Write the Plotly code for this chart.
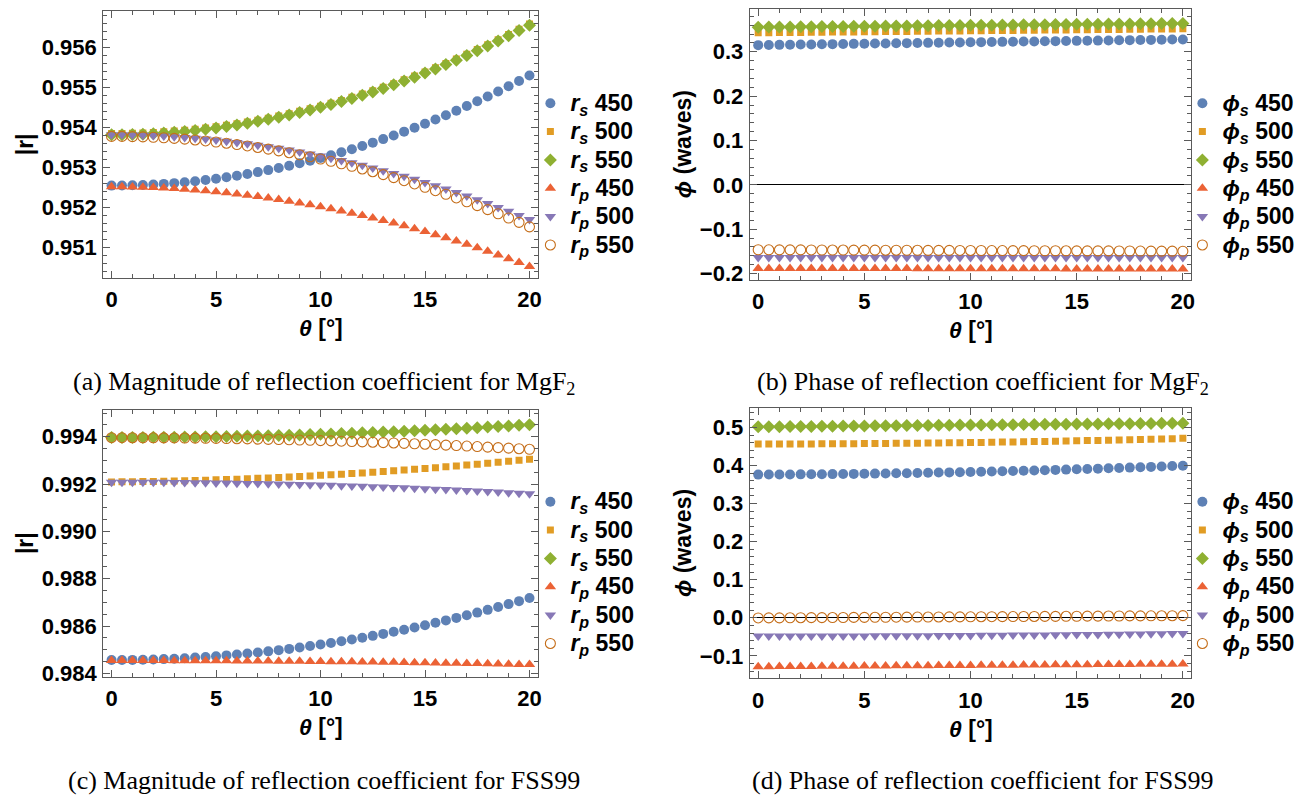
import plotly.graph_objects as go

# ---------------- data ----------------
theta = [0, 0.5, 1, 1.5, 2, 2.5, 3, 3.5, 4, 4.5, 5, 5.5, 6, 6.5, 7, 7.5, 8, 8.5, 9, 9.5,
         10, 10.5, 11, 11.5, 12, 12.5, 13, 13.5, 14, 14.5, 15, 15.5, 16, 16.5, 17, 17.5,
         18, 18.5, 19, 19.5, 20]

series_names_r = ["<i>r<sub>s</sub></i> 450", "<i>r<sub>s</sub></i> 500",
                  "<i>r<sub>s</sub></i> 550", "<i>r<sub>p</sub></i> 450",
                  "<i>r<sub>p</sub></i> 500", "<i>r<sub>p</sub></i> 550"]
series_names_phi = ["<i>ϕ<sub>s</sub></i> 450", "<i>ϕ<sub>s</sub></i> 500",
                    "<i>ϕ<sub>s</sub></i> 550", "<i>ϕ<sub>p</sub></i> 450",
                    "<i>ϕ<sub>p</sub></i> 500", "<i>ϕ<sub>p</sub></i> 550"]

# (a) MgF2 magnitude
a_rs450 = [0.952540, 0.952542, 0.952547, 0.952555, 0.952568, 0.952583, 0.952602, 0.952624, 0.952650, 0.952679,
           0.952712, 0.952748, 0.952788, 0.952830, 0.952877, 0.952927, 0.952980, 0.953037, 0.953097, 0.953160,
           0.953228, 0.953298, 0.953372, 0.953449, 0.953530, 0.953614, 0.953702, 0.953793, 0.953888, 0.953985,
           0.954087, 0.954192, 0.954300, 0.954412, 0.954527, 0.954646, 0.954768, 0.954893, 0.955022, 0.955154,
           0.955290]
a_rs500 = [0.953840, 0.953842, 0.953847, 0.953855, 0.953867, 0.953883, 0.953902, 0.953924, 0.953950, 0.953979,
           0.954011, 0.954047, 0.954087, 0.954129, 0.954176, 0.954225, 0.954278, 0.954335, 0.954395, 0.954458,
           0.954525, 0.954595, 0.954669, 0.954746, 0.954826, 0.954910, 0.954998, 0.955088, 0.955183, 0.955280,
           0.955381, 0.955486, 0.955594, 0.955705, 0.955820, 0.955938, 0.956059, 0.956184, 0.956313, 0.956445,
           0.956580]
a_rs550 = [0.953810, 0.953812, 0.953817, 0.953825, 0.953837, 0.953853, 0.953872, 0.953894, 0.953920, 0.953949,
           0.953981, 0.954017, 0.954057, 0.954099, 0.954146, 0.954195, 0.954248, 0.954305, 0.954365, 0.954428,
           0.954495, 0.954565, 0.954639, 0.954716, 0.954796, 0.954880, 0.954968, 0.955058, 0.955153, 0.955250,
           0.955351, 0.955456, 0.955564, 0.955675, 0.955790, 0.955908, 0.956029, 0.956154, 0.956283, 0.956415,
           0.956550]
a_rp450 = [0.952510, 0.952509, 0.952505, 0.952499, 0.952490, 0.952479, 0.952465, 0.952449, 0.952430, 0.952409,
           0.952386, 0.952360, 0.952331, 0.952300, 0.952266, 0.952230, 0.952192, 0.952151, 0.952107, 0.952061,
           0.952013, 0.951962, 0.951908, 0.951852, 0.951794, 0.951733, 0.951669, 0.951603, 0.951535, 0.951464,
           0.951391, 0.951315, 0.951236, 0.951156, 0.951072, 0.950986, 0.950898, 0.950807, 0.950714, 0.950618,
           0.950520]
a_rp500 = [0.953810, 0.953809, 0.953805, 0.953798, 0.953789, 0.953777, 0.953762, 0.953745, 0.953725, 0.953703,
           0.953678, 0.953650, 0.953619, 0.953586, 0.953550, 0.953512, 0.953471, 0.953427, 0.953381, 0.953332,
           0.953280, 0.953226, 0.953169, 0.953109, 0.953047, 0.952982, 0.952914, 0.952844, 0.952771, 0.952696,
           0.952618, 0.952537, 0.952453, 0.952367, 0.952278, 0.952187, 0.952093, 0.951996, 0.951897, 0.951795,
           0.951690]
a_rp550 = [0.953770, 0.953769, 0.953764, 0.953757, 0.953747, 0.953735, 0.953719, 0.953701, 0.953680, 0.953656,
           0.953629, 0.953599, 0.953567, 0.953531, 0.953493, 0.953452, 0.953408, 0.953362, 0.953312, 0.953260,
           0.953205, 0.953147, 0.953086, 0.953023, 0.952956, 0.952887, 0.952815, 0.952740, 0.952663, 0.952582,
           0.952499, 0.952413, 0.952324, 0.952232, 0.952137, 0.952040, 0.951939, 0.951836, 0.951730, 0.951622,
           0.951510]

# (b) MgF2 phase (waves)
b_ps450 = [0.3150, 0.3153, 0.3156, 0.3160, 0.3163, 0.3166, 0.3169, 0.3172, 0.3176, 0.3179,
           0.3182, 0.3185, 0.3188, 0.3192, 0.3195, 0.3198, 0.3201, 0.3204, 0.3208, 0.3211,
           0.3214, 0.3217, 0.3220, 0.3224, 0.3227, 0.3230, 0.3233, 0.3236, 0.3240, 0.3243,
           0.3246, 0.3249, 0.3252, 0.3256, 0.3259, 0.3262, 0.3265, 0.3268, 0.3272, 0.3275,
           0.3278]
b_ps500 = [0.3428, 0.3430, 0.3433, 0.3435, 0.3437, 0.3439, 0.3442, 0.3444, 0.3446, 0.3448,
           0.3451, 0.3453, 0.3455, 0.3457, 0.3460, 0.3462, 0.3464, 0.3466, 0.3469, 0.3471,
           0.3473, 0.3475, 0.3478, 0.3480, 0.3482, 0.3484, 0.3487, 0.3489, 0.3491, 0.3493,
           0.3496, 0.3498, 0.3500, 0.3502, 0.3505, 0.3507, 0.3509, 0.3511, 0.3514, 0.3516,
           0.3518]
b_ps550 = [0.3555, 0.3557, 0.3559, 0.3561, 0.3563, 0.3566, 0.3568, 0.3570, 0.3572, 0.3574,
           0.3576, 0.3578, 0.3580, 0.3582, 0.3584, 0.3587, 0.3589, 0.3591, 0.3593, 0.3595,
           0.3597, 0.3599, 0.3601, 0.3603, 0.3605, 0.3608, 0.3610, 0.3612, 0.3614, 0.3616,
           0.3618, 0.3620, 0.3622, 0.3624, 0.3626, 0.3629, 0.3631, 0.3633, 0.3635, 0.3637,
           0.3639]
b_pp450 = [-0.1883, -0.1883, -0.1884, -0.1884, -0.1885, -0.1885, -0.1885, -0.1886, -0.1886, -0.1886,
           -0.1887, -0.1887, -0.1887, -0.1888, -0.1888, -0.1889, -0.1889, -0.1889, -0.1890, -0.1890,
           -0.1890, -0.1891, -0.1891, -0.1892, -0.1892, -0.1892, -0.1893, -0.1893, -0.1893, -0.1894,
           -0.1894, -0.1894, -0.1895, -0.1895, -0.1896, -0.1896, -0.1896, -0.1897, -0.1897, -0.1897,
           -0.1898]
b_pp500 = [-0.1635, -0.1635, -0.1635, -0.1635, -0.1636, -0.1636, -0.1636, -0.1636, -0.1636, -0.1636,
           -0.1636, -0.1637, -0.1637, -0.1637, -0.1637, -0.1637, -0.1637, -0.1637, -0.1638, -0.1638,
           -0.1638, -0.1638, -0.1638, -0.1638, -0.1638, -0.1639, -0.1639, -0.1639, -0.1639, -0.1639,
           -0.1639, -0.1639, -0.1640, -0.1640, -0.1640, -0.1640, -0.1640, -0.1640, -0.1640, -0.1640,
           -0.1640]
b_pp550 = [-0.1463, -0.1464, -0.1465, -0.1465, -0.1466, -0.1467, -0.1468, -0.1469, -0.1469, -0.1470,
           -0.1471, -0.1472, -0.1473, -0.1473, -0.1474, -0.1475, -0.1476, -0.1477, -0.1477, -0.1478,
           -0.1479, -0.1480, -0.1481, -0.1481, -0.1482, -0.1483, -0.1484, -0.1485, -0.1485, -0.1486,
           -0.1487, -0.1488, -0.1489, -0.1489, -0.1490, -0.1491, -0.1492, -0.1493, -0.1493, -0.1494,
           -0.1495]

# (c) FSS99 magnitude
c_rs450 = [0.984560, 0.984562, 0.984567, 0.984575, 0.984586, 0.984601, 0.984619, 0.984640, 0.984665, 0.984693,
           0.984724, 0.984758, 0.984796, 0.984837, 0.984881, 0.984928, 0.984979, 0.985033, 0.985091, 0.985151,
           0.985215, 0.985282, 0.985353, 0.985426, 0.985503, 0.985583, 0.985667, 0.985754, 0.985844, 0.985937,
           0.986034, 0.986134, 0.986237, 0.986343, 0.986453, 0.986566, 0.986682, 0.986802, 0.986925, 0.987051,
           0.987180]
c_rs500 = [0.992090, 0.992094, 0.992100, 0.992106, 0.992113, 0.992122, 0.992131, 0.992141, 0.992153, 0.992165,
           0.992179, 0.992193, 0.992208, 0.992225, 0.992242, 0.992261, 0.992280, 0.992301, 0.992322, 0.992345,
           0.992368, 0.992393, 0.992418, 0.992445, 0.992472, 0.992501, 0.992530, 0.992561, 0.992592, 0.992625,
           0.992659, 0.992693, 0.992729, 0.992765, 0.992803, 0.992842, 0.992881, 0.992922, 0.992964, 0.993006,
           0.993050]
c_rs550 = [0.993970, 0.993970, 0.993971, 0.993973, 0.993975, 0.993978, 0.993982, 0.993987, 0.993992, 0.993997,
           0.994004, 0.994011, 0.994019, 0.994027, 0.994036, 0.994046, 0.994056, 0.994068, 0.994079, 0.994092,
           0.994105, 0.994119, 0.994133, 0.994149, 0.994164, 0.994181, 0.994198, 0.994216, 0.994235, 0.994254,
           0.994274, 0.994294, 0.994316, 0.994338, 0.994360, 0.994383, 0.994407, 0.994432, 0.994457, 0.994483,
           0.994510]
c_rp450 = [0.984540, 0.984540, 0.984540, 0.984539, 0.984538, 0.984537, 0.984536, 0.984535, 0.984533, 0.984531,
           0.984529, 0.984527, 0.984525, 0.984522, 0.984519, 0.984516, 0.984513, 0.984509, 0.984506, 0.984502,
           0.984498, 0.984493, 0.984489, 0.984484, 0.984479, 0.984474, 0.984468, 0.984463, 0.984457, 0.984451,
           0.984444, 0.984438, 0.984431, 0.984424, 0.984417, 0.984410, 0.984402, 0.984395, 0.984387, 0.984378,
           0.984370]
c_rp500 = [0.992080, 0.992080, 0.992079, 0.992077, 0.992075, 0.992072, 0.992069, 0.992065, 0.992060, 0.992055,
           0.992049, 0.992043, 0.992036, 0.992028, 0.992020, 0.992011, 0.992002, 0.991992, 0.991981, 0.991969,
           0.991958, 0.991945, 0.991932, 0.991918, 0.991904, 0.991889, 0.991873, 0.991857, 0.991840, 0.991822,
           0.991804, 0.991786, 0.991766, 0.991747, 0.991726, 0.991705, 0.991683, 0.991661, 0.991638, 0.991614,
           0.991590]
c_rp550 = [0.993960, 0.993960, 0.993959, 0.993957, 0.993955, 0.993952, 0.993949, 0.993945, 0.993940, 0.993935,
           0.993929, 0.993923, 0.993916, 0.993908, 0.993900, 0.993891, 0.993882, 0.993872, 0.993861, 0.993849,
           0.993838, 0.993825, 0.993812, 0.993798, 0.993784, 0.993769, 0.993753, 0.993737, 0.993720, 0.993702,
           0.993684, 0.993666, 0.993646, 0.993627, 0.993606, 0.993585, 0.993563, 0.993541, 0.993518, 0.993494,
           0.993470]

# (d) FSS99 phase (waves)
d_ps450 = [0.3762, 0.3763, 0.3765, 0.3766, 0.3768, 0.3770, 0.3773, 0.3775, 0.3778, 0.3781,
           0.3785, 0.3788, 0.3792, 0.3796, 0.3800, 0.3805, 0.3810, 0.3815, 0.3820, 0.3825,
           0.3831, 0.3837, 0.3843, 0.3850, 0.3856, 0.3863, 0.3870, 0.3878, 0.3886, 0.3893,
           0.3902, 0.3910, 0.3919, 0.3927, 0.3936, 0.3946, 0.3955, 0.3965, 0.3975, 0.3986,
           0.3996]
d_ps500 = [0.4567, 0.4567, 0.4567, 0.4568, 0.4568, 0.4569, 0.4570, 0.4571, 0.4573, 0.4574,
           0.4576, 0.4578, 0.4580, 0.4583, 0.4585, 0.4588, 0.4590, 0.4594, 0.4597, 0.4600,
           0.4604, 0.4608, 0.4612, 0.4616, 0.4620, 0.4624, 0.4629, 0.4634, 0.4639, 0.4644,
           0.4650, 0.4655, 0.4661, 0.4667, 0.4673, 0.4680, 0.4686, 0.4693, 0.4700, 0.4707,
           0.4714]
d_ps550 = [0.5017, 0.5019, 0.5022, 0.5024, 0.5027, 0.5029, 0.5031, 0.5034, 0.5036, 0.5039,
           0.5041, 0.5043, 0.5046, 0.5048, 0.5051, 0.5053, 0.5055, 0.5058, 0.5060, 0.5063,
           0.5065, 0.5067, 0.5070, 0.5072, 0.5075, 0.5077, 0.5079, 0.5082, 0.5084, 0.5087,
           0.5089, 0.5091, 0.5094, 0.5096, 0.5099, 0.5101, 0.5103, 0.5106, 0.5108, 0.5111,
           0.5113]
d_pp450 = [-0.1286, -0.1284, -0.1283, -0.1281, -0.1279, -0.1277, -0.1276, -0.1274, -0.1272, -0.1270,
           -0.1269, -0.1267, -0.1265, -0.1263, -0.1262, -0.1260, -0.1258, -0.1256, -0.1255, -0.1253,
           -0.1251, -0.1249, -0.1248, -0.1246, -0.1244, -0.1242, -0.1241, -0.1239, -0.1237, -0.1235,
           -0.1234, -0.1232, -0.1230, -0.1228, -0.1227, -0.1225, -0.1223, -0.1221, -0.1220, -0.1218,
           -0.1216]
d_pp500 = [-0.0480, -0.0480, -0.0480, -0.0480, -0.0479, -0.0479, -0.0478, -0.0478, -0.0477, -0.0477,
           -0.0476, -0.0475, -0.0474, -0.0473, -0.0472, -0.0470, -0.0469, -0.0468, -0.0466, -0.0464,
           -0.0463, -0.0461, -0.0459, -0.0457, -0.0455, -0.0453, -0.0451, -0.0449, -0.0446, -0.0444,
           -0.0441, -0.0439, -0.0436, -0.0433, -0.0430, -0.0427, -0.0424, -0.0421, -0.0418, -0.0414,
           -0.0411]
d_pp550 = [-0.0004, -0.0003, -0.0001, 0.0000, 0.0002, 0.0004, 0.0005, 0.0007, 0.0008, 0.0010,
           0.0011, 0.0013, 0.0014, 0.0016, 0.0017, 0.0019, 0.0020, 0.0022, 0.0023, 0.0025,
           0.0026, 0.0028, 0.0029, 0.0031, 0.0032, 0.0034, 0.0035, 0.0037, 0.0038, 0.0040,
           0.0041, 0.0043, 0.0044, 0.0046, 0.0047, 0.0049, 0.0050, 0.0052, 0.0053, 0.0055,
           0.0056]

captions = ["(a) Magnitude of reflection coefficient for MgF<sub>2</sub>",
            "(b) Phase of reflection coefficient for MgF<sub>2</sub>",
            "(c) Magnitude of reflection coefficient for FSS99",
            "(d) Phase of reflection coefficient for FSS99"]

# ---------------- style ----------------
W, H = 1310, 803
def PX(x):
    return x / W
def PY(y):
    return 1 - y / H

colors = ["#5E81B5", "#E19C24", "#8FB032", "#EB6235", "#8778B6", "#C56E1A"]
symbols = ["circle", "square", "diamond", "triangle-up", "triangle-down", "circle-open"]
msizes = [10, 7, 10, 10, 10, 10]
FONT = "Liberation Sans, Arial, sans-serif"
FRAME = "#5a5a5a"
LEG_SPACING_FONT = 19.5   # sets row spacing of the legend
LEG_TEXT_PX = 23          # actual rendered legend text size

panels = [
    dict(data=[a_rs450, a_rs500, a_rs550, a_rp450, a_rp500, a_rp550], names=series_names_r,
         xdom=(103.5, 539.5), ydom=(11, 281), yrange=[0.950235, 0.956906], dtick=0.001, mdtick=0.0002,
         fmt=".3f", zero=False, leg=(532, 85), ytitle="<b>|r|</b>", ytx=25),
    dict(data=[b_ps450, b_ps500, b_ps550, b_pp450, b_pp500, b_pp550], names=series_names_phi,
         xdom=(752, 1195), ydom=(9.3, 282.7), yrange=[-0.2134, 0.396], dtick=0.1, mdtick=0.02,
         fmt=".1f", zero=True, leg=(1186, 85), ytitle="<b><i>ϕ</i> (waves)</b>", ytx=685),
    dict(data=[c_rs450, c_rs500, c_rs550, c_rp450, c_rp500, c_rp550], names=series_names_r,
         xdom=(103.5, 539.5), ydom=(414.3, 684.3), yrange=[0.98386, 0.995145], dtick=0.002, mdtick=0.0005,
         fmt=".3f", zero=False, leg=(532, 488), ytitle="<b>|r|</b>", ytx=25),
    dict(data=[d_ps450, d_ps500, d_ps550, d_pp450, d_pp500, d_pp550], names=series_names_phi,
         xdom=(752, 1195), ydom=(412.7, 686), yrange=[-0.159, 0.551], dtick=0.1, mdtick=0.02,
         fmt=".1f", zero=True, leg=(1186, 488), ytitle="<b><i>ϕ</i> (waves)</b>", ytx=685),
]

fig = go.Figure()
layout = dict(width=W, height=H, margin=dict(l=0, r=0, t=0, b=0),
              paper_bgcolor="white", plot_bgcolor="white", showlegend=True)
annotations = []
caption_pos = [(325, 387), (986, 387), (325, 789), (986, 789)]
tickfont = dict(family=FONT, size=22, color="black")

for i, p in enumerate(panels):
    k = "" if i == 0 else str(i + 1)
    xa, ya = "x" + k, "y" + k
    legname = "legend" + k
    for j, (ys, nm) in enumerate(zip(p["data"], p["names"])):
        mk = dict(symbol=symbols[j], color=colors[j], size=msizes[j], line=dict(width=0))
        if symbols[j] == "circle-open":
            mk = dict(symbol="circle-open", color=colors[j], size=msizes[j], line=dict(width=1.1, color=colors[j]))
        label = f"<span style='font-size:{LEG_TEXT_PX}px'><b>{nm}</b></span>"
        fig.add_trace(go.Scatter(x=theta[:len(ys)], y=ys, mode="markers", name=label, marker=mk,
                                 xaxis=xa, yaxis=ya, legend=legname, legendgroup=f"g{i}",
                                 showlegend=True))
    common = dict(showline=True, linecolor=FRAME, linewidth=1, mirror="ticks", ticks="inside",
                  tickcolor=FRAME, tickwidth=1, showgrid=False, tickfont=tickfont,
                  tickprefix="<b>", ticksuffix="</b>")
    layout["xaxis" + k] = dict(common, domain=[PX(p["xdom"][0]), PX(p["xdom"][1])], anchor=ya,
                               range=[-0.4, 20.4], tick0=0, dtick=5, ticklen=7, zeroline=False,
                               ticklabelstandoff=2,
                               minor=dict(ticks="inside", ticklen=4, dtick=1, tick0=0, tickcolor=FRAME))
    layout["yaxis" + k] = dict(common, domain=[PY(p["ydom"][1]), PY(p["ydom"][0])], anchor=xa,
                               range=p["yrange"], tick0=0, dtick=p["dtick"], ticklen=7,
                               tickformat=p["fmt"], zeroline=p["zero"], zerolinecolor="black",
                               zerolinewidth=1, ticklabelstandoff=1,
                               minor=dict(ticks="inside", ticklen=4, dtick=p["mdtick"], tick0=0,
                                          tickcolor=FRAME))
    layout[legname] = dict(x=PX(p["leg"][0]), y=PY(p["leg"][1]), xanchor="left", yanchor="top",
                           xref="paper", yref="paper", bgcolor="rgba(0,0,0,0)", borderwidth=0,
                           font=dict(family=FONT, size=LEG_SPACING_FONT, color="black"),
                           tracegroupgap=0, itemsizing="trace")
    # axis titles
    cx = (p["xdom"][0] + p["xdom"][1]) / 2
    annotations.append(dict(text="<b><i>θ</i> [°]</b>", x=PX(cx), y=PY(p["ydom"][1] + 51),
                            xref="paper", yref="paper", showarrow=False, xanchor="center",
                            yanchor="middle", font=dict(family=FONT, size=23, color="black")))
    cy = (p["ydom"][0] + p["ydom"][1]) / 2
    annotations.append(dict(text=p["ytitle"], x=PX(p["ytx"]), y=PY(cy), textangle=-90,
                            xref="paper", yref="paper", showarrow=False, xanchor="center",
                            yanchor="middle", font=dict(family=FONT, size=23, color="black")))
    annotations.append(dict(text=captions[i], x=PX(caption_pos[i][0]), y=PY(caption_pos[i][1]),
                            xref="paper", yref="paper", showarrow=False, xanchor="center",
                            yanchor="middle",
                            font=dict(family="Liberation Serif, Times New Roman, serif", size=26,
                                      color="black")))

layout["annotations"] = annotations
fig.update_layout(**layout)
fig.write_html("out.html")
